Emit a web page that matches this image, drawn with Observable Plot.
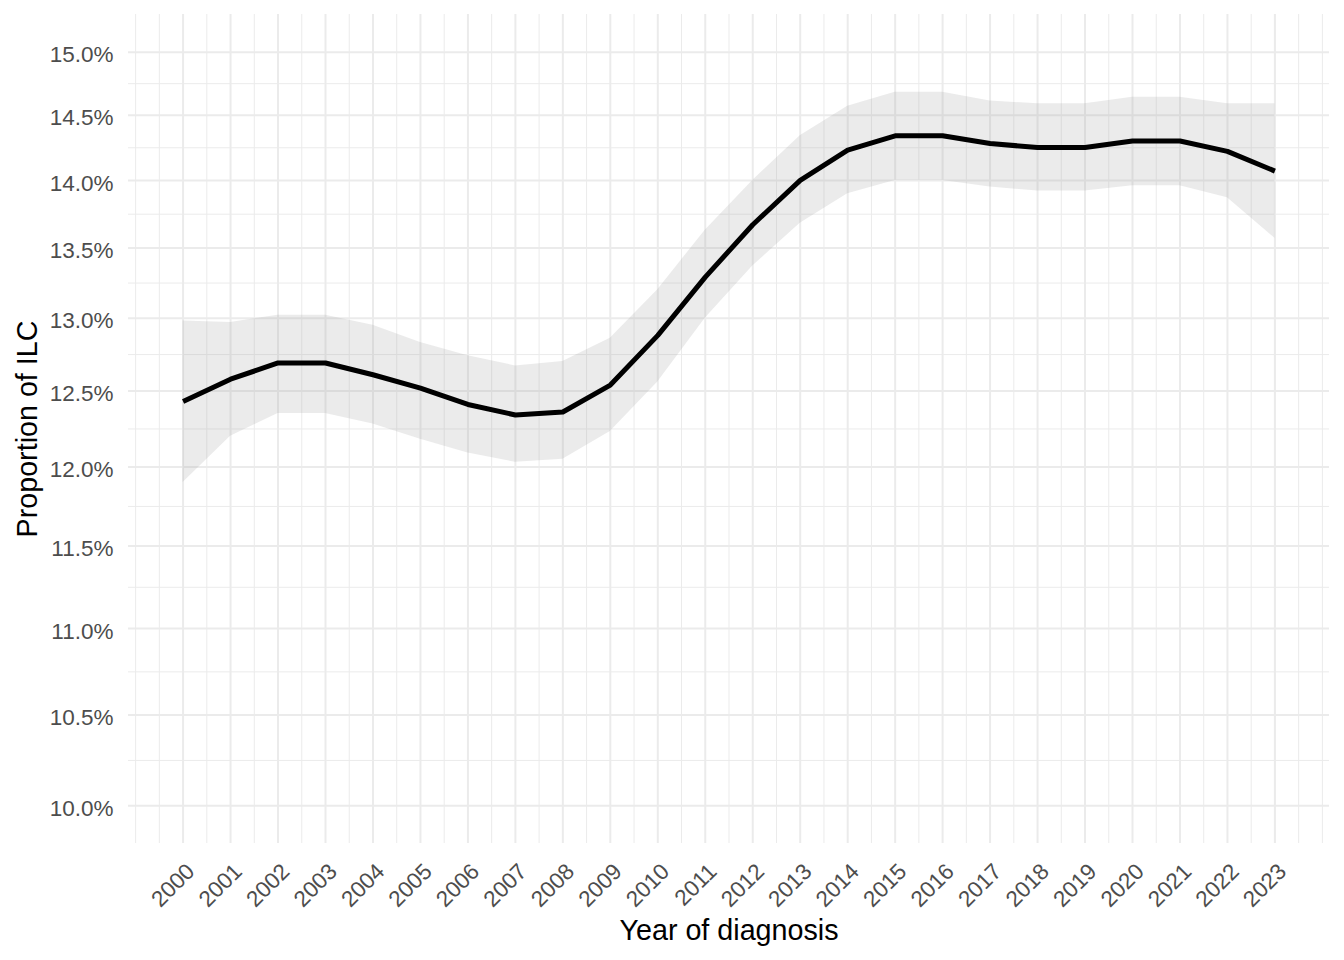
<!DOCTYPE html>
<html>
<head>
<meta charset="utf-8">
<script src="https://cdn.jsdelivr.net/npm/d3@7"></script>
<script src="https://cdn.jsdelivr.net/npm/@observablehq/plot@0.6"></script>
<style>
  html, body { margin: 0; padding: 0; background: #ffffff; }
</style>
</head>
<body>
<div id="chart"></div>
<script>
// Year of diagnosis
const years = [2000, 2001, 2002, 2003, 2004, 2005, 2006, 2007, 2008, 2009, 2010, 2011,
               2012, 2013, 2014, 2015, 2016, 2017, 2018, 2019, 2020, 2021, 2022, 2023];
// Proportion of ILC (%), fitted estimate
const estimate = [12.43, 12.58, 12.69, 12.69, 12.61, 12.52, 12.41, 12.34, 12.36, 12.54, 12.88, 13.29,
                  13.67, 14.00, 14.23, 14.34, 14.34, 14.28, 14.25, 14.25, 14.30, 14.30, 14.22, 14.07];
// Lower confidence bound (%)
const lower = [11.90, 12.20, 12.35, 12.35, 12.28, 12.18, 12.09, 12.03, 12.05, 12.23, 12.56, 13.00,
               13.37, 13.68, 13.90, 14.00, 14.00, 13.95, 13.92, 13.92, 13.96, 13.96, 13.87, 13.57];
// Upper confidence bound (%)
const upper = [12.98, 12.97, 13.02, 13.02, 12.95, 12.83, 12.74, 12.67, 12.70, 12.86, 13.20, 13.63,
               14.00, 14.34, 14.57, 14.68, 14.68, 14.61, 14.59, 14.59, 14.64, 14.64, 14.59, 14.59];
// Y tick values (%)
const yTicks = [10.0, 10.5, 11.0, 11.5, 12.0, 12.5, 13.0, 13.5, 14.0, 14.5, 15.0];
const xTitle = "Year of diagnosis";
const yTitle = "Proportion of ILC";

const data = years.map((year, i) => ({year, est: estimate[i], lo: lower[i], hi: upper[i]}));
// minor gridlines: geometric midpoints (log scale) and half-years
const yMinor = yTicks.slice(1).map((v, i) => Math.sqrt(v * yTicks[i]));
const xMinor = d3.range(1999, 2024.01, 0.5).filter(v => !years.includes(v));

const gridColor = "#EBEBEB";
const chart = Plot.plot({
  width: 1344,
  height: 960,
  marginLeft: 128,
  marginRight: 15,
  marginTop: 14,
  marginBottom: 117,
  style: {fontFamily: "'Liberation Sans', Arial, sans-serif", background: "#ffffff"},
  x: {domain: [1998.85, 2024.15], axis: null},
  y: {type: "log", domain: [9.799, 15.307], axis: null},
  marks: [
    Plot.gridX(xMinor, {stroke: gridColor, strokeOpacity: 1, strokeWidth: 1}),
    Plot.gridY(yMinor, {stroke: gridColor, strokeOpacity: 1, strokeWidth: 1}),
    Plot.gridX(years, {stroke: gridColor, strokeOpacity: 1, strokeWidth: 2}),
    Plot.gridY(yTicks, {stroke: gridColor, strokeOpacity: 1, strokeWidth: 2}),
    Plot.areaY(data, {x: "year", y1: "lo", y2: "hi", fill: "#999999", fillOpacity: 0.2}),
    Plot.lineY(data, {x: "year", y: "est", stroke: "#000000", strokeWidth: 5, strokeLinecap: "butt", strokeLinejoin: "round"}),
    Plot.text(yTicks, {y: d => d, frameAnchor: "left", dx: -15, dy: 3, textAnchor: "end", lineAnchor: "middle",
      text: d => d.toFixed(1) + "%", fontSize: 22.5, fill: "#4D4D4D"}),
    Plot.text(years, {x: d => d, frameAnchor: "bottom", dx: 1.5, dy: 18, rotate: -45, textAnchor: "end", lineAnchor: "top",
      text: d => String(d), fontSize: 22.5, fill: "#4D4D4D"}),
    Plot.text([xTitle], {frameAnchor: "bottom", dy: 96, textAnchor: "middle", lineAnchor: "bottom", text: d => d, fontSize: 28.7, fill: "#000000"}),
    Plot.text([yTitle], {frameAnchor: "left", dx: -91.5, rotate: -90, textAnchor: "middle", lineAnchor: "bottom", text: d => d, fontSize: 28.7, fill: "#000000"})
  ]
});
document.getElementById("chart").appendChild(chart);
</script>
</body>
</html>
